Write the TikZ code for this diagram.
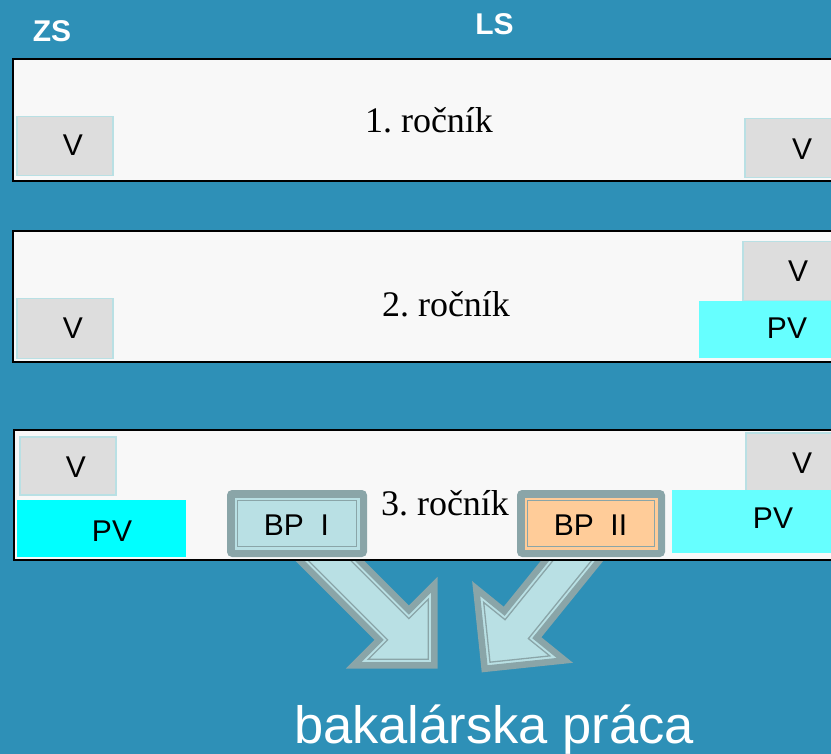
\documentclass[tikz,border=0pt]{standalone}
\usepackage{fontspec}
\newfontfamily\arialf{Liberation Sans}
\newfontfamily\timesf{Liberation Serif}
\definecolor{bg}{RGB}{46,144,183}
\definecolor{bandfill}{RGB}{248,248,248}
\definecolor{vfill}{RGB}{221,221,221}
\definecolor{vborder}{RGB}{185,224,228}
\definecolor{pvA}{RGB}{102,255,255}
\definecolor{pvB}{RGB}{0,255,255}
\definecolor{arrfill}{RGB}{185,224,228}
\definecolor{arrgray}{RGB}{138,165,168}
\definecolor{peach}{RGB}{255,204,153}
\tikzset{
  band/.style={draw=black, line width=2pt, fill=bandfill, inner sep=0pt, anchor=north west},
  vbox/.style={draw=vborder, line width=1.5pt, fill=vfill, inner sep=0pt, anchor=north west},
  pvbox/.style={fill=pvA, inner sep=0pt, anchor=north west},
  lab/.style={font=\arialf\fontsize{30}{35}\selectfont, anchor=base, inner sep=0pt, text=black},
  yearlab/.style={font=\timesf\frenchspacing\fontsize{36}{42}\selectfont, anchor=base, inner sep=0pt, text=black},
  semlab/.style={font=\arialf\bfseries\fontsize{30}{36}\selectfont, anchor=base, inner sep=0pt, text=white},
  bpouter/.style={fill=arrgray, rounded corners=5pt, inner sep=0pt, minimum height=67pt},
  bpmid/.style={inner sep=0pt, minimum height=52pt},
  bpinner/.style={draw=arrgray, line width=1.5pt, inner sep=0pt, minimum height=46pt},
  arrout/.style={draw=arrgray, line width=6.5pt, fill=arrfill, line join=miter},
  arrin/.style={draw=arrgray, line width=1.3pt, line join=miter},
}
\newcommand{\blockarrow}{%
  \path[arrout] (-140,-21) -- (0,-21) -- (0,-57) -- (57,0) -- (0,57) -- (0,21) -- (-140,21) -- cycle;
  \draw[arrin] (-140,-15) -- (6,-15) -- (6,-42.5) -- (48.5,0) -- (6,42.5) -- (6,15) -- (-140,15);
}
\begin{document}
\begin{tikzpicture}[x=1pt,y=-1pt]
\useasboundingbox (0,0) rectangle (831,754);
\clip (0,0) rectangle (831,754);
\fill[bg] (0,0) rectangle (831,754);

% arrows (behind the third band)
\coordinate (a1) at (394,625);
\coordinate (a2) at (520.5,624.5);
\begin{scope}[shift={(a1)}, rotate=-45]
  \blockarrow
\end{scope}
\begin{scope}[shift={(a2)}, rotate=-129]
  \blockarrow
\end{scope}

% bands
\node[band, minimum width=830pt, minimum height=122pt] (r1) at (12,58) {};
\node[band, minimum width=830pt, minimum height=131pt] (r2) at (12,230) {};
\node[band, minimum width=830pt, minimum height=130pt] (r3) at (13,429) {};

% band 1 boxes
\node[vbox, minimum width=96pt, minimum height=59pt] (v1l) at (16,116) {};
\node[vbox, minimum width=96pt, minimum height=59pt] (v1r) at (744,118) {};
% band 2 boxes
\node[vbox, minimum width=96pt, minimum height=60pt] (v2l) at (16,298) {};
\node[vbox, minimum width=98pt, minimum height=59pt] (v2r) at (742,241) {};
\node[pvbox, minimum width=141pt, minimum height=57pt] (p2r) at (699,301) {};
% band 3 boxes
\node[vbox, minimum width=96pt, minimum height=58pt] (v3l) at (19,436) {};
\node[pvbox, fill=pvB, minimum width=169pt, minimum height=57pt] (p3l) at (17,500) {};
\node[vbox, minimum width=95pt, minimum height=59pt] (v3r) at (745,432) {};
\node[pvbox, minimum width=168pt, minimum height=63pt] (p3r) at (672,490) {};

% BP boxes
\node[bpouter, minimum width=140pt] (bp1o) at (297,523.5) {};
\node[bpmid, fill=arrfill, minimum width=125pt] (bp1m) at (bp1o) {};
\node[bpinner, fill=arrfill, minimum width=119pt] (bp1) at (bp1o) {};
\node[bpouter, minimum width=148pt] (bp2o) at (591,523.5) {};
\node[bpmid, fill=peach, minimum width=133pt] (bp2m) at (bp2o) {};
\node[bpinner, fill=peach, minimum width=127pt] (bp2) at (bp2o) {};
\node[lab] (bp1t) at (296.5,535) {BP\ \ I};
\node[lab] (bp2t) at (590.5,535) {BP\ \ II};

% labels
\node[semlab] (zs) at (52,42) {ZS};
\node[semlab] (ls) at (494.5,35) {LS};
\node[yearlab] (y1) at (429,133) {1. ročník};
\node[yearlab] (y2) at (446,316.5) {2. ročník};
\node[yearlab] (y3) at (445,515) {3. ročník};

\node[lab] (t1l) at (73,156) {V};
\node[lab] (t1r) at (802,160) {V};
\node[lab] (t2l) at (73,339) {V};
\node[lab] (t2r) at (798,282) {V};
\node[lab] (t2p) at (787,339) {PV};
\node[lab] (t3l) at (76,477) {V};
\node[lab] (t3lp) at (112,541) {PV};
\node[lab] (t3r) at (802,473) {V};
\node[lab] (t3rp) at (773,528) {PV};

\node[font=\arialf\fontsize{52.5}{60}\selectfont, text=white, anchor=base, inner sep=0pt] (bak) at (494,743) {bakalárska práca};
\end{tikzpicture}
\end{document}
